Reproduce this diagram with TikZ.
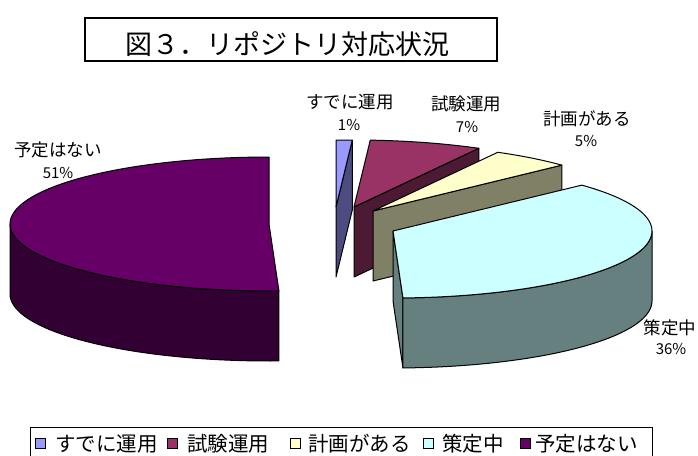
\documentclass[tikz,border=0pt]{standalone}
\usepackage{fontspec}
\setmainfont{Noto Sans CJK JP}
\definecolor{cA}{HTML}{9999FF}\definecolor{cAs}{HTML}{4C4C80}
\definecolor{cB}{HTML}{993366}\definecolor{cBs}{HTML}{4D1A33}
\definecolor{cC}{HTML}{FFFFCC}\definecolor{cCs}{HTML}{808066}
\definecolor{cD}{HTML}{CCFFFF}\definecolor{cDs}{HTML}{668080}
\definecolor{cE}{HTML}{660066}\definecolor{cEs}{HTML}{330033}
\begin{document}
\begin{tikzpicture}[x=1pt,y=-1pt,
  face/.style={draw=black,line width=1pt,line join=round},
  lbl/.style={font=\fontsize{17.5}{20}\selectfont,inner sep=0pt},
  pct/.style={font=\fontsize{15}{18}\selectfont,inner sep=0pt},
  legtext/.style={font=\fontsize{20.5}{24}\selectfont,inner sep=0pt,anchor=west},
  legsq/.style={draw=black,line width=0.8pt,minimum size=10pt,inner sep=0pt}]
\useasboundingbox (0,0) rectangle (698,455);
\fill[white] (0,0) rectangle (698,455);
\def\rx{259}\def\ry{67}\def\hh{70}
% title
\draw[line width=1.3pt] (85,18) rectangle (497,61);
\node[font=\fontsize{27}{30}\selectfont,inner sep=0pt] (title) at (287,44) {図３．リポジトリ対応状況};
% slice 1: すでに運用
\filldraw[face,fill=cAs] (336,207) -- ({336+\rx*sin(3.6)},{207-\ry*cos(3.6)}) -- ++(0,\hh) -- (336,207+\hh) -- cycle;
\filldraw[face,fill=cA] (336,207) -- plot[domain=0:3.6,samples=5] ({336+\rx*sin(\x)},{207-\ry*cos(\x)}) -- cycle;
% slice 2: 試験運用
\filldraw[face,fill=cBs] (354,207) -- ({354+\rx*sin(28.8)},{207-\ry*cos(28.8)}) -- ++(0,\hh) -- (354,207+\hh) -- cycle;
\filldraw[face,fill=cB] (354,207) -- plot[domain=3.6:28.8,samples=20] ({354+\rx*sin(\x)},{207-\ry*cos(\x)}) -- cycle;
% slice 3: 計画がある
\filldraw[face,fill=cCs] (373,211) -- ({373+\rx*sin(46.8)},{211-\ry*cos(46.8)}) -- ++(0,\hh) -- (373,211+\hh) -- cycle;
\filldraw[face,fill=cC] (373,211) -- plot[domain=28.8:46.8,samples=15] ({373+\rx*sin(\x)},{211-\ry*cos(\x)}) -- cycle;
% slice 4: 策定中
\filldraw[face,fill=cDs] (393,231) -- ({393+\rx*sin(177.8)},{231-\ry*cos(177.8)}) -- ++(0,\hh) -- (393,231+\hh) -- cycle;
\filldraw[face,fill=cDs] plot[domain=90:177.8,samples=50] ({393+\rx*sin(\x)},{231-\ry*cos(\x)}) -- plot[domain=177.8:90,samples=50] ({393+\rx*sin(\x)},{231+\hh-\ry*cos(\x)}) -- cycle;
\filldraw[face,fill=cD] (393,231) -- plot[domain=46.8:177.8,samples=70] ({393+\rx*sin(\x)},{231-\ry*cos(\x)}) -- cycle;
% slice 5: 予定はない
\filldraw[face,fill=cEs] plot[domain=177.8:270,samples=50] ({269+\rx*sin(\x)},{224-\ry*cos(\x)}) -- plot[domain=270:177.8,samples=50] ({269+\rx*sin(\x)},{224+\hh-\ry*cos(\x)}) -- cycle;
\filldraw[face,fill=cE] (269,224) -- plot[domain=177.8:360,samples=90] ({269+\rx*sin(\x)},{224-\ry*cos(\x)}) -- cycle;
% data labels
\node[lbl] (lA) at (350,102.5) {すでに運用};
\node[pct] (pA) at (349,125) {1\%};
\node[lbl] (lB) at (466,104) {試験運用};
\node[pct] (pB) at (467,127.5) {7\%};
\node[lbl] (lC) at (587,119) {計画がある};
\node[pct] (pC) at (586,141) {5\%};
\node[lbl] (lD) at (670,327.5) {策定中};
\node[pct] (pD) at (671,348.5) {36\%};
\node[lbl] (lE) at (58,150) {予定はない};
\node[pct] (pE) at (58,173) {51\%};
% legend
\draw[line width=0.9pt] (30,470) -- (30,427) -- (652,427) -- (652,470);
\node[legsq,fill=cA] (sqA) at (40,443) {};
\node[legtext] (tA) at (55,444) {すでに運用};
\node[legsq,fill=cB] (sqB) at (172.5,443) {};
\node[legtext] (tB) at (187,444) {試験運用};
\node[legsq,fill=cC] (sqC) at (295,443) {};
\node[legtext] (tC) at (308,444) {計画がある};
\node[legsq,fill=cD] (sqD) at (428,443) {};
\node[legtext] (tD) at (442,444) {策定中};
\node[legsq,fill=cE] (sqE) at (525,443) {};
\node[legtext] (tE) at (535,444) {予定はない};
\end{tikzpicture}
\end{document}
